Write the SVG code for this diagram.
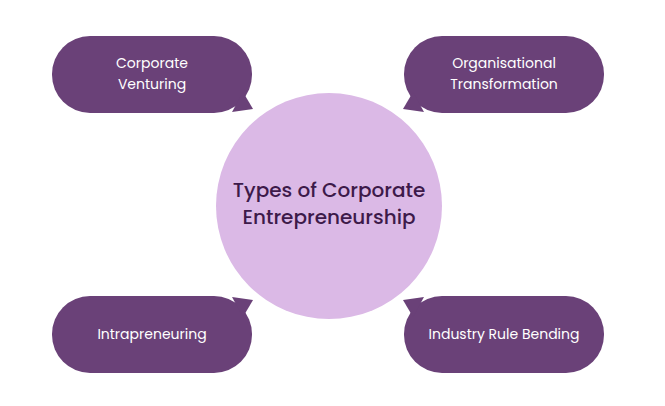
<svg xmlns="http://www.w3.org/2000/svg" width="665" height="406" viewBox="0 0 665 406">
<style>
.b{fill:#6a4178}
.t{font-family:Poppins,"Open Sans","Liberation Sans",sans-serif;font-size:14px;fill:#fff;text-anchor:middle}
.h{font-family:Poppins,"Open Sans","Liberation Sans",sans-serif;font-size:20px;fill:#3d1a4a;text-anchor:middle;font-weight:500}
</style>
<rect width="665" height="406" fill="#fff"/>
<g id="center"><circle cx="329" cy="206" r="113" fill="#dbb9e6"/>
<text class="h" x="329" y="197">Types of Corporate</text><text class="h" x="329" y="224">Entrepreneurship</text></g>
<g id="n1"><rect class="b" x="52" y="36" width="200" height="77" rx="38"/><path class="b" d="M243,92 L253,109 L232,112 Z"/>
<text class="t" x="152" y="68">Corporate</text><text class="t" x="152" y="89">Venturing</text></g>
<g id="n2"><rect class="b" x="404" y="36" width="200" height="77" rx="38"/><path class="b" d="M413,92 L403,109 L424,112 Z"/>
<text class="t" x="504" y="68">Organisational</text><text class="t" x="504" y="89">Transformation</text></g>
<g id="n3"><rect class="b" x="52" y="296" width="200" height="77" rx="38"/><path class="b" d="M243,317 L253,300 L232,297 Z"/>
<text class="t" x="152" y="339">Intrapreneuring</text></g>
<g id="n4"><rect class="b" x="404" y="296" width="200" height="77" rx="38"/><path class="b" d="M413,317 L403,300 L424,297 Z"/>
<text class="t" x="504" y="339">Industry Rule Bending</text></g>
<g id="connectors"/>
</svg>
